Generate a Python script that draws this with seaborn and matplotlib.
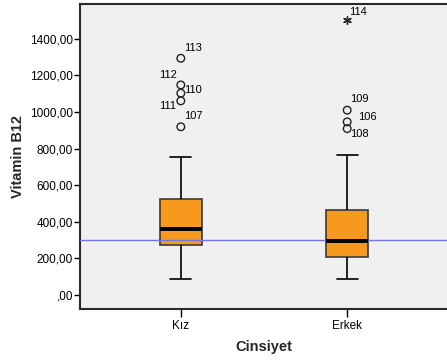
import numpy as np
import pandas as pd
import seaborn as sns
import matplotlib
matplotlib.use('Agg')
from matplotlib import pyplot as plt
from matplotlib.ticker import FuncFormatter

groups = ['Kız', 'Erkek']
# five-number summary: lower whisker, Q1, median, Q3, upper whisker
kiz_box = [87, 272, 361, 526, 756]
erkek_box = [84, 208, 295, 465, 766]

# outliers (o) with case numbers
out_group = ['Kız', 'Kız', 'Kız', 'Kız', 'Kız', 'Erkek', 'Erkek', 'Erkek']
out_value = [1294, 1148, 1103, 1061, 919, 1010, 946, 909]
out_label = ['113', '112', '110', '111', '107', '109', '106', '108']

# extreme values (*)
ext_group = ['Erkek']
ext_value = [1504]
ext_label = ['114']

ref_value = 300
y_ticks = [0, 200, 400, 600, 800, 1000, 1200, 1400]

# label placement (pixels from the point)
label_offset = {
    '113': (3, 10.5, 'left'), '112': (-4, 9.5, 'right'), '110': (3, 3, 'left'),
    '111': (-5, -5, 'right'), '107': (3, 11, 'left'), '114': (2, 8, 'left'),
    '109': (3, 11, 'left'), '106': (11, 5, 'left'), '108': (3, -5, 'left'),
}

sns.set_theme(style='white')
plt.rcParams['font.family'] = ['Liberation Sans', 'DejaVu Sans']

df = pd.DataFrame({
    'Cinsiyet': ['Kız'] * len(kiz_box) + ['Erkek'] * len(erkek_box),
    'Vitamin B12': kiz_box + erkek_box,
})

fig = plt.figure(figsize=(4.47, 3.6), dpi=100)
ax = fig.add_axes([80 / 447, 51 / 360, 1 - 80 / 447, 305 / 360])
ax.set_facecolor('#F0F0F0')

sns.boxplot(data=df, x='Cinsiyet', y='Vitamin B12', order=groups, whis=(0, 100),
            width=0.25, color='#F7991D', saturation=1, showfliers=False,
            linewidth=1.2, linecolor='black', ax=ax,
            boxprops=dict(edgecolor='#3a3a3a'),
            medianprops=dict(color='black', linewidth=2.8, zorder=6),
            whiskerprops=dict(color='black'), capprops=dict(color='black'))

# reference line drawn over the boxes
ax.axhline(ref_value, color='#7474E4', linewidth=1, zorder=5)

xpos = {g: i for i, g in enumerate(groups)}
ax.scatter([xpos[g] for g in out_group], out_value, s=30, facecolors='none',
           edgecolors='#222222', linewidths=1, zorder=4)
ax.scatter([xpos[g] for g in ext_group], ext_value, s=30, marker=(6, 2, 0),
           color='#222222', linewidths=1, zorder=4)

for g, v, lab in zip(out_group + ext_group, out_value + ext_value, out_label + ext_label):
    dx, dy, ha = label_offset[lab]
    ax.annotate(lab, (xpos[g], v), xytext=(dx, dy), textcoords='offset pixels',
                ha=ha, va='center', fontsize=8, color='black')

ax.set_xlim(-0.606, 1.6)
ax.set_ylim(-78, 1591)
ax.set_yticks(y_ticks)
ax.yaxis.set_major_formatter(FuncFormatter(
    lambda v, p: ',00' if v == 0 else f'{v:.2f}'.replace('.', ',')))

for side in ['left', 'bottom', 'top']:
    ax.spines[side].set_color('#2a2a2a')
    ax.spines[side].set_linewidth(1.5)
ax.spines['right'].set_visible(False)

ax.tick_params(axis='y', direction='out', length=4, width=1, pad=1,
               labelsize=8.5, colors='black', left=True)
ax.tick_params(axis='x', direction='out', length=6, width=1, pad=2,
               labelsize=8.5, colors='black', bottom=True)

ax.set_xlabel('Cinsiyet', fontsize=10.5, fontweight='bold', labelpad=6)
ax.set_ylabel('Vitamin B12', fontsize=10.5, fontweight='bold', labelpad=4)

fig.savefig('out.png', dpi=100)
